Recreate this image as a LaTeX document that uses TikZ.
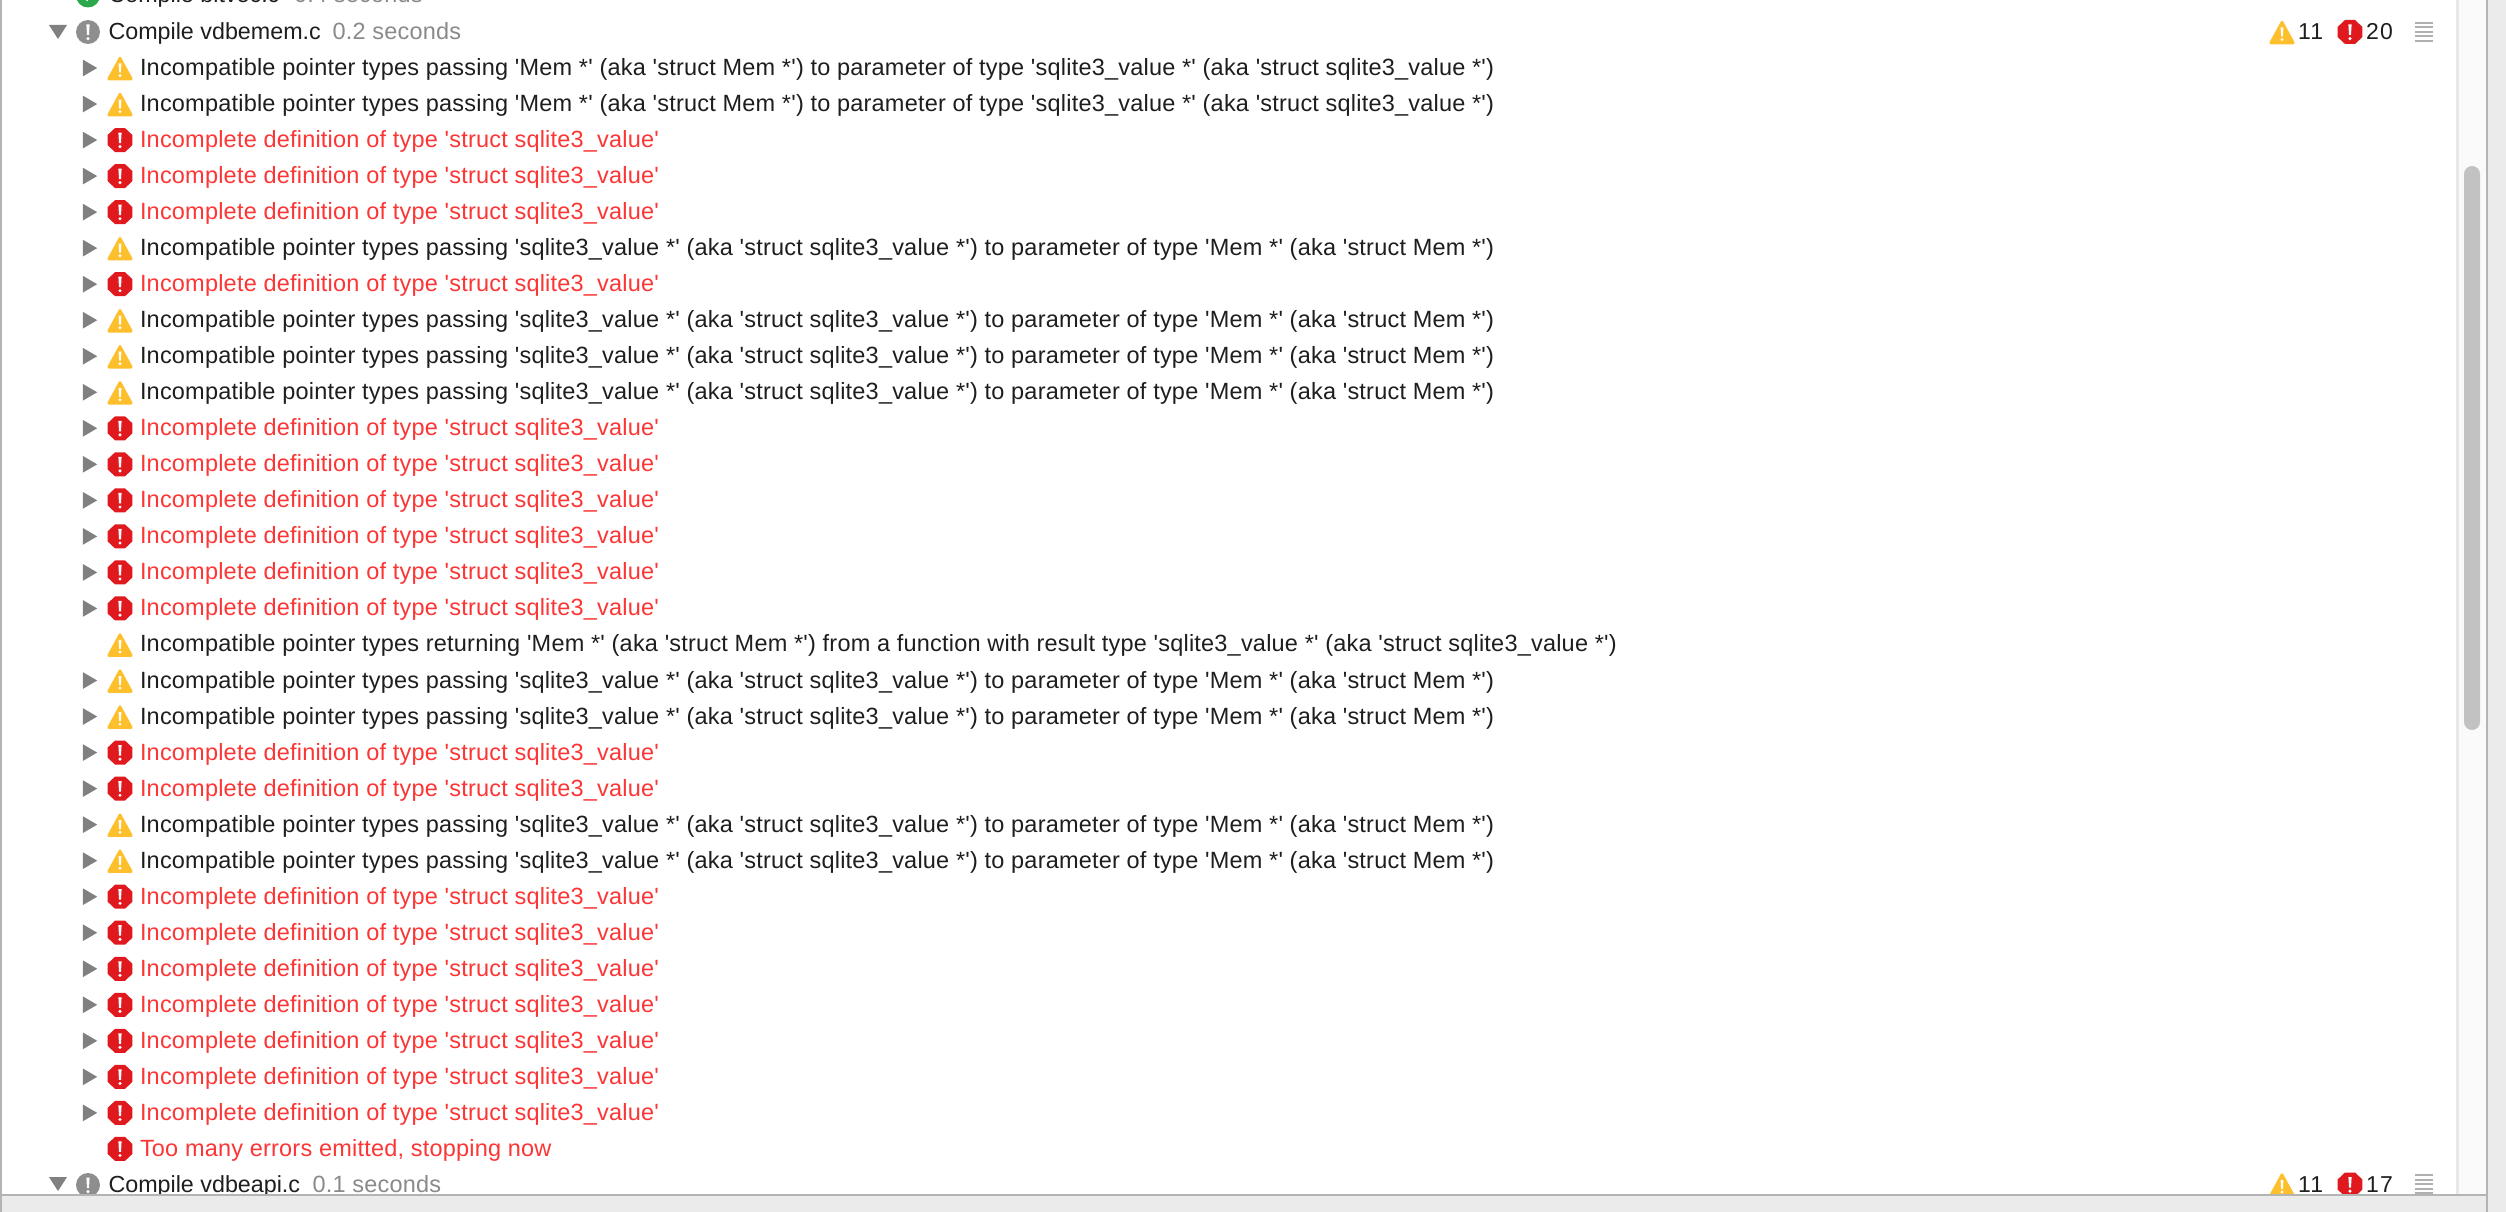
\documentclass[tikz,border=0pt]{standalone}
\usepackage{fontspec}
\newfontfamily\uifont[LetterSpace=0.9]{Liberation Sans}
\newfontfamily\headfont{Liberation Sans}
\newfontfamily\countfont[LetterSpace=6]{Liberation Sans}
\definecolor{txtblack}{HTML}{1E1E1E}
\definecolor{txtred}{HTML}{FC3535}
\definecolor{txtgray}{HTML}{8A8A8A}
\definecolor{errfill}{HTML}{E0191F}
\definecolor{warnfill}{HTML}{FEBF2C}
\definecolor{discl}{HTML}{808080}
\definecolor{hdrgray}{HTML}{8E8E8E}
\definecolor{okgreen}{HTML}{2AA84A}
\definecolor{chrome}{HTML}{EBEBEB}
\definecolor{edgegray}{HTML}{B4B4B4}
\definecolor{track}{HTML}{FAFAFA}
\definecolor{trackline}{HTML}{E8E8E8}
\definecolor{thumb}{HTML}{C2C2C2}
\definecolor{listlines}{HTML}{B0B0B0}
\newcommand{\MemToVal}{Incompatible pointer types passing 'Mem *' (aka 'struct Mem *') to parameter of type 'sqlite3\_value *' (aka 'struct sqlite3\_value *')}
\newcommand{\ValToMem}{Incompatible pointer types passing 'sqlite3\_value *' (aka 'struct sqlite3\_value *') to parameter of type 'Mem *' (aka 'struct Mem *')}
\newcommand{\RetMem}{Incompatible pointer types returning 'Mem *' (aka 'struct Mem *') from a function with result type 'sqlite3\_value *' (aka 'struct sqlite3\_value *')}
\newcommand{\IncDef}{Incomplete definition of type 'struct sqlite3\_value'}
\tikzset{
  msg/.style={anchor=base west,inner sep=0pt,outer sep=0pt,font=\uifont\fontsize{23.5}{23.5}\selectfont},
  blackmsg/.style={msg,text=txtblack},
  redmsg/.style={msg,text=txtred},
  graymsg/.style={msg,text=txtgray},
  headmsg/.style={msg,text=txtblack,font=\headfont\fontsize{23.3}{23.3}\selectfont},
  countlabel/.style={anchor=base west,inner sep=0pt,outer sep=0pt,text=txtblack,font=\countfont\fontsize{23}{23}\selectfont},
  warnicon/.pic={
    \fill[warnfill,rounded corners=2.6pt] (0,-12.6) -- (13.6,12.3) -- (-13.6,12.3) -- cycle;
    \fill[white] (-1.4,-4.5) -- (1.4,-4.5) -- (0.9,4.5) -- (-0.9,4.5) -- cycle;
    \fill[white] (0,7.6) circle (1.6);
  },
  erricon/.pic={
    \fill[errfill] (-5,-12) -- (5,-12) -- (12.4,-5) -- (12.4,5) -- (5,12) -- (-5,12) -- (-12.4,5) -- (-12.4,-5) -- cycle;
    \fill[white] (-1.6,-7.5) -- (1.6,-7.5) -- (1,3) -- (-1,3) -- cycle;
    \fill[white] (0,6.6) circle (1.7);
  },
  grayicon/.pic={
    \fill[hdrgray] (0,0) circle (12);
    \fill[white] (-1.6,-7.5) -- (1.6,-7.5) -- (1,3) -- (-1,3) -- cycle;
    \fill[white] (0,6.6) circle (1.7);
  },
  closedtri/.pic={\fill[discl] (-7.2,-8.4) -- (7.2,0) -- (-7.2,8.4) -- cycle;},
  opentri/.pic={\fill[discl] (-9,-7) -- (9,-7) -- (0,7) -- cycle;},
  listicon/.pic={
    \foreach \q in {0,4.5,9,13.5,18} \fill[listlines] (0,\q-1) rectangle (18,\q+1);
  },
}
\begin{document}
\begin{tikzpicture}[x=1pt,y=-1pt]
\useasboundingbox (0,0) rectangle (2506,1212);
\clip (0,0) rectangle (2506,1212);
\fill[white] (0,0) rectangle (2506,1212);
% previous item, cut by the top edge
\fill[okgreen] (88,-4.5) circle (12);
\draw[white,line width=2.4pt] (83,-5) -- (87,-0.5) -- (94,-9);
\node[headmsg] (prevname) at (108.5,3) {Compile bitvec.c};
\node[graymsg] (prevtime) at (294,3) {0.4 seconds};
% first group header
\pic at (58,32) {opentri};
\pic at (88,32) {grayicon};
\node[headmsg] (headone) at (108.5,39.5) {Compile vdbemem.c};
\node[graymsg] (timeone) at (332.6,39.5) {0.2 seconds};
\pic at (2282,32) {warnicon};
\node[countlabel] (warnone) at (2298,40) {11};
\pic at (2350,32) {erricon};
\node[countlabel] (errone) at (2366,40) {20};
\pic at (2415,23) {listicon};
% rows
\foreach \i in {1,2} {
  \pic at (90,{68+36.03*(\i-1)}) {closedtri};
  \pic at (120,{68+36.03*(\i-1)}) {warnicon};
  \node[blackmsg] (row\i) at (140,{75.5+36.03*(\i-1)}) {\MemToVal};
}
\foreach \i in {6,8,9,10,18,19,22,23} {
  \pic at (90,{68+36.03*(\i-1)}) {closedtri};
  \pic at (120,{68+36.03*(\i-1)}) {warnicon};
  \node[blackmsg] (row\i) at (140,{75.5+36.03*(\i-1)}) {\ValToMem};
}
\pic at (120,{68+36.03*16}) {warnicon};
\node[blackmsg] (row17) at (140,{75.5+36.03*16}) {\RetMem};
\foreach \i in {3,4,5,7,11,12,13,14,15,16,20,21,24,25,26,27,28,29,30} {
  \pic at (90,{68+36.03*(\i-1)}) {closedtri};
  \pic at (120,{68+36.03*(\i-1)}) {erricon};
  \node[redmsg] (row\i) at (140,{75.5+36.03*(\i-1)}) {\IncDef};
}
\pic at (120,{68+36.03*30}) {erricon};
\node[redmsg] (row31) at (140,{75.5+36.03*30}) {Too many errors emitted, stopping now};
% second group header
\pic at (58,1184) {opentri};
\pic at (88,1185) {grayicon};
\node[headmsg] (headtwo) at (108.5,1192) {Compile vdbeapi.c};
\node[graymsg] (timetwo) at (312.5,1192) {0.1 seconds};
\pic at (2282,1184.5) {warnicon};
\node[countlabel] (warntwo) at (2298,1192.5) {11};
\pic at (2350,1184.5) {erricon};
\node[countlabel] (errtwo) at (2366,1192.5) {17};
\pic at (2415,1175) {listicon};
% window chrome
\fill[chrome] (0,1196) rectangle (2506,1212);
\fill[edgegray] (0,1194) rectangle (2487,1196);
\fill[edgegray] (0,0) rectangle (2,1212);
\fill[track] (2456,0) rectangle (2486,1194);
\fill[trackline] (2456,0) rectangle (2458.5,1194);
\fill[chrome] (2488,0) rectangle (2506,1212);
\fill[edgegray] (2486,0) rectangle (2488,1212);
\fill[thumb,rounded corners=8pt] (2464,166) rectangle (2480,730);
\end{tikzpicture}
\end{document}
